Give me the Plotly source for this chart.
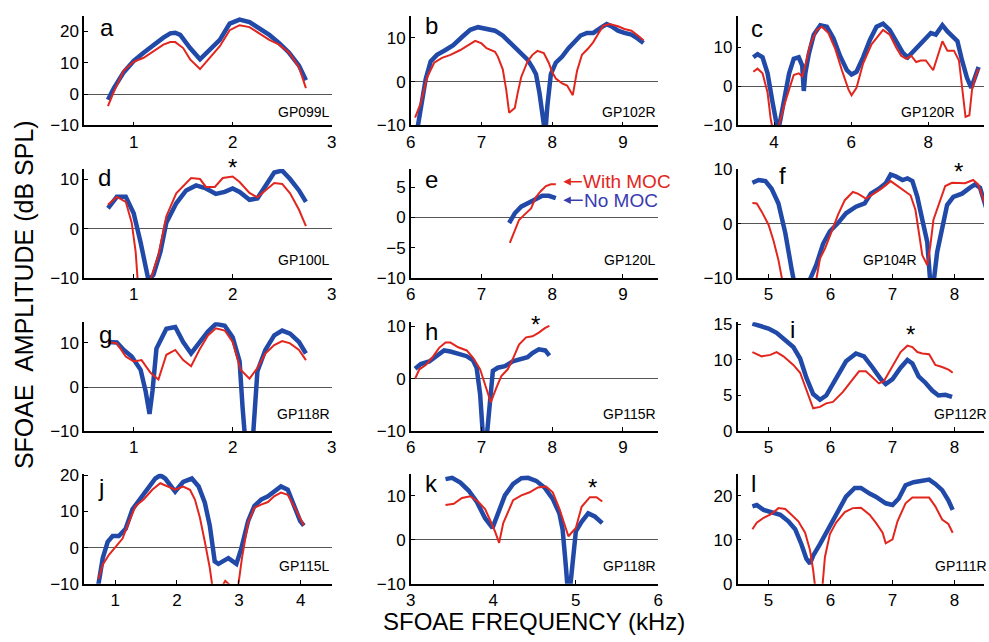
import plotly.graph_objects as go

W, H = 989, 642
BLUE = "#2149A8"
RED = "#E2261E"
VIOLET = "#3B3BB0"
FONT = "Liberation Sans, Arial, Helvetica, sans-serif"

# ---------------- data (kHz, dB SPL) ----------------
a_bx = [0.74,0.8,0.9,1.0,1.1,1.2,1.3,1.37,1.42,1.47,1.57,1.67,1.77,1.87,1.97,2.07,2.17,2.27,2.37,2.47,2.57,2.67,2.74]
a_by = [-1.8,1.9,7,10.6,13.2,15.8,18,19.4,19.6,18.9,14.7,11.1,14.2,17.3,22.5,23.8,23,20.9,18.9,16.3,13.2,9.1,4.4]
a_rx = [0.74,0.8,0.9,1.0,1.1,1.2,1.3,1.37,1.42,1.5,1.57,1.67,1.77,1.87,1.97,2.07,2.17,2.27,2.37,2.47,2.57,2.67,2.74]
a_ry = [-3.8,0.8,7.5,10.3,11.6,13.7,15.8,16.6,16.6,14.7,11.1,8,11.6,15.3,20.4,22,21.4,19.4,17.3,15.8,13.2,8.6,1.9]

b_bx = [6.08,6.21,6.28,6.37,6.49,6.6,6.72,6.84,6.95,7.07,7.19,7.3,7.42,7.53,7.65,7.72,7.77,7.82,7.86,7.9,7.93,7.98,8.05,8.14,8.23,8.33,8.4,8.49,8.58,8.7,8.77,8.84,8.93,9.02,9.12,9.21,9.29]
b_by = [-12,0.6,4.6,6.1,7.2,8.3,10.1,11.8,12.4,12.1,11.6,10.5,8.7,6.8,5,3.2,1.7,-2.7,-7.9,-12,-5.7,1.7,4.3,5.7,7.6,9.4,10.5,11.1,11.1,12.4,13.1,12.6,11.6,11.1,10.7,9.8,8.8]
b_rx = [6.06,6.14,6.23,6.33,6.44,6.56,6.7,6.84,6.91,7.0,7.07,7.19,7.23,7.3,7.35,7.39,7.47,7.51,7.56,7.65,7.72,7.79,7.88,7.95,8.0,8.05,8.14,8.21,8.29,8.35,8.42,8.51,8.58,8.65,8.72,8.81,8.93,9.02,9.12,9.21,9.29]
b_ry = [-8.2,-4.9,1,4.3,5.4,6.1,7.2,8.7,9.3,8.7,7.6,6.8,5.7,2.8,-2,-7.1,-6,-2.7,1,4.6,6.1,7,6.5,4.3,2.1,0.7,-0.4,-0.9,-3.1,2.4,6.1,7.6,9,10.9,12.7,13.1,12.6,12,11.6,10.5,9.4]

c_bx = [3.46,3.57,3.7,3.83,3.96,4.04,4.1,4.17,4.26,4.39,4.51,4.64,4.73,4.77,4.81,4.9,5.03,5.2,5.37,5.54,5.71,5.89,6.01,6.14,6.31,6.49,6.66,6.83,7.0,7.17,7.34,7.47,7.64,7.81,7.98,8.07,8.2,8.37,8.5,8.63,8.76,8.88,9.01,9.12,9.21,9.31]
c_by = [7.4,8.2,7.4,3.3,-4.1,-9.9,-11.5,-8.2,-3.3,3.3,7,7.4,5.3,-1.2,3.3,8.2,13.2,15.6,15.2,12.3,7.8,4.1,3,3.7,7.4,11.9,15.2,16,14.4,11.5,8.6,7.4,9.1,10.7,12.8,13.6,13.2,15.6,14,12.8,11.5,6.6,2.1,-0.4,2.5,4.9]
c_rx = [3.46,3.57,3.7,3.83,3.91,3.96,4.0,4.13,4.26,4.39,4.51,4.64,4.73,4.81,4.94,5.11,5.24,5.41,5.59,5.76,5.93,6.01,6.14,6.31,6.53,6.7,6.83,7.0,7.17,7.3,7.43,7.56,7.69,7.81,7.94,8.13,8.24,8.37,8.5,8.67,8.8,8.88,8.97,9.07,9.14,9.23,9.31]
c_ry = [3.7,4.5,3.3,-1.6,-8.2,-11.5,-13,-9.9,-4.9,-0.8,2.9,3.3,2.5,5.3,10.7,14.4,15.2,13.6,9.5,4.1,-0.8,-2.3,-0.4,5.8,10.7,12.8,14.4,13.2,9.9,7.8,7,7.8,6.2,6.6,6.6,4.1,7.4,11.5,9.1,9.1,6.6,0,-7.8,-7.4,-0.8,2.5,4.5]

d_bx = [0.74,0.83,0.92,1.0,1.07,1.12,1.15,1.2,1.27,1.33,1.43,1.53,1.63,1.73,1.83,1.92,2.0,2.07,2.17,2.25,2.33,2.42,2.5,2.58,2.67,2.74]
d_by = [4.1,6.4,6.4,3.1,-2.8,-7.3,-10.5,-9.3,-4.7,1.2,5.1,7.7,8.7,8.1,7,7.4,8.1,7.4,5.8,6.1,8.7,11.3,11.7,10,7.7,5.4]
d_rx = [0.74,0.83,0.92,0.98,1.02,1.04,1.1,1.17,1.25,1.33,1.43,1.52,1.58,1.67,1.73,1.82,1.9,2.0,2.07,2.17,2.25,2.33,2.42,2.5,2.58,2.67,2.74]
d_ry = [4.8,6.4,5.4,1.2,-4.7,-10.3,-13,-10.3,-5.4,2.5,7.1,9,10.2,10,8.4,8.4,10.2,10.5,9.4,7.2,6.3,7.7,9.2,9,7.1,3.8,0.5]

e_bx = [7.39,7.47,7.56,7.67,7.77,7.86,7.95,8.05]
e_by = [-0.9,0.7,1.8,2.4,3.1,3.6,3.6,3.2]
e_rx = [7.4,7.47,7.53,7.6,7.7,7.77,7.84,7.91,7.98,8.05]
e_ry = [-4.2,-2.2,-0.4,0.4,1.5,3.4,4.4,5.2,5.5,5.5]

f_bx = [4.74,4.84,4.95,5.05,5.16,5.27,5.37,5.41,5.45,5.6,5.67,5.77,5.88,5.99,6.12,6.25,6.41,6.55,6.65,6.78,6.89,6.97,7.05,7.16,7.24,7.32,7.4,7.48,7.56,7.61,7.66,7.72,7.8,7.88,7.98,8.12,8.25,8.33,8.41,8.47,8.52]
f_by = [7.5,8,7.8,6.4,3.7,-1.7,-8.2,-10.3,-13,-13,-10.2,-7.6,-3.7,-1.4,0.1,1.9,3.1,3.7,5.5,6.4,7.4,9,8.7,8,8.3,7.8,4.9,0.7,-3.4,-11,-11,-5.2,-0.5,3.4,4.9,5.5,6.6,7.2,6.6,4.5,2.5]
f_rx = [4.74,4.81,4.89,5.0,5.08,5.16,5.22,5.27,5.7,5.77,5.83,5.91,6.01,6.12,6.23,6.36,6.44,6.57,6.7,6.84,6.97,7.08,7.16,7.29,7.37,7.42,7.48,7.56,7.61,7.66,7.77,7.85,7.96,8.06,8.17,8.3,8.38,8.47,8.52]
f_ry = [3.8,3.7,2.2,-0.2,-3.1,-6.7,-10.3,-13,-13,-10.3,-6.4,-4.6,-1.7,1.6,4.3,5.8,5.5,4.6,5.5,6.6,7.8,6.9,6.1,5.2,2.5,-1.1,-5.8,-7.6,-4,0.7,4.3,6.9,7.5,7.5,7.4,8,7.2,4.3,2.5]

g_bx = [0.74,0.83,0.9,0.98,1.07,1.12,1.16,1.19,1.23,1.33,1.42,1.5,1.58,1.67,1.75,1.83,1.92,2.0,2.07,2.1,2.13,2.2,2.23,2.25,2.33,2.42,2.5,2.58,2.67,2.74]
g_by = [10.2,10.1,8.4,6.9,3.9,-0.9,-6.1,-0.9,8.7,13.2,13.6,10.2,7.6,10.2,12.6,14.3,13.9,11.3,5.8,-4.6,-13,-13,-2.4,3.6,8.4,11.7,12.8,12.1,10.2,7.6]
g_rx = [0.74,0.83,0.92,1.0,1.08,1.17,1.25,1.33,1.42,1.5,1.58,1.67,1.75,1.83,1.92,2.0,2.08,2.17,2.25,2.33,2.42,2.5,2.58,2.67,2.74]
g_ry = [10.2,9.9,6.9,5.8,6.1,3.2,1.7,7.3,8.4,6.1,4.7,8.7,11.7,13.3,12.8,10.2,3.9,1.9,4.3,7.6,9.5,10.4,9.9,8.4,6.1]

h_bx = [6.06,6.14,6.26,6.35,6.47,6.56,6.67,6.79,6.88,6.93,6.98,7.01,7.03,7.06,7.08,7.11,7.16,7.23,7.33,7.44,7.56,7.65,7.72,7.81,7.9,7.96]
h_by = [1.9,2.8,3.3,4.1,5.4,5.2,4.7,4.3,3.5,2.1,-3,-10.3,-13,-13,-10.3,-4.2,1.5,2.1,2.4,3.3,3.7,4.1,4.9,5.6,5.4,4.4]
h_rx = [6.06,6.12,6.21,6.3,6.4,6.49,6.56,6.67,6.79,6.88,6.98,7.05,7.13,7.21,7.28,7.37,7.44,7.53,7.63,7.72,7.81,7.9,7.96]
h_ry = [0,1.8,2.6,4,5.9,6.9,6.9,6,5.4,4,1.8,-1.1,-4.5,-1.7,0.5,1.8,3.7,6.5,7.9,8.1,8.8,9.7,10.1]

i_bx = [4.74,4.87,5.0,5.13,5.27,5.4,5.51,5.61,5.72,5.83,5.93,6.09,6.25,6.41,6.54,6.68,6.81,6.89,7.0,7.13,7.24,7.32,7.42,7.53,7.64,7.74,7.85,7.96]
i_by = [15.1,14.8,14.4,13.8,12.7,11.8,10.2,7.5,5.2,4.4,5,7.5,9.8,10.9,10.5,8.9,7.3,6.6,7.3,8.9,10,9.5,7.7,6.8,5.7,5,5.1,4.8]
i_rx = [4.74,4.89,5.03,5.13,5.24,5.4,5.51,5.61,5.72,5.83,5.93,6.04,6.2,6.36,6.46,6.57,6.68,6.78,6.86,7.0,7.13,7.24,7.32,7.4,7.48,7.59,7.69,7.8,7.91,7.97]
i_ry = [11.1,10.5,10.7,11.1,10.5,9.3,8.2,5.7,3.2,3.4,3.9,4.1,5.5,7.3,8.4,8.4,7.5,6.7,7,9.1,11.1,12,11.8,11.1,10.9,10.8,9.3,9,8.6,8.2]

j_bx = [0.73,0.8,0.88,0.96,1.06,1.17,1.28,1.41,1.54,1.65,1.73,1.81,1.97,2.1,2.24,2.35,2.45,2.53,2.61,2.67,2.83,2.96,3.04,3.15,3.25,3.36,3.47,3.57,3.68,3.79,3.89,3.99,4.05]
j_by = [-10.2,-2.9,1.6,3.2,3.2,5.2,10.6,13.7,16.9,19.1,20,19.1,15.5,18.2,19.1,16.9,12.4,6.1,-3.8,-4.5,-2.9,-4.5,-0.2,7.4,11.5,13.3,14.2,15.5,16.9,16,11.9,7.4,6.1]
j_rx = [0.73,0.8,0.9,1.01,1.12,1.22,1.33,1.46,1.6,1.73,1.86,1.97,2.1,2.21,2.29,2.37,2.45,2.53,2.57,2.65,2.72,2.78,2.85,2.92,2.99,3.05,3.15,3.25,3.36,3.47,3.57,3.68,3.79,3.89,4.05]
j_ry = [-8.7,-4.7,-2,0.3,2.5,7,11.5,13.3,16,17.8,16.9,16,16.9,16,13.3,8.3,1.6,-5.6,-10.5,-13,-11,-9.2,-10.3,-12,-10.5,-2.9,7,11,11.9,12.6,14.2,15.2,14.6,11.5,6.1]

k_bx = [3.42,3.5,3.6,3.7,3.8,3.9,3.99,4.06,4.14,4.24,4.34,4.42,4.52,4.62,4.72,4.8,4.84,4.88,4.9,4.93,4.97,5.0,5.07,5.15,5.23,5.32]
k_by = [13.8,14.1,13,11.2,8.6,4.9,2.7,6.4,10.1,12.7,14,14.1,13.4,11.9,9.3,6,2.3,-6.2,-11,-11,-2.5,1.9,4.1,6,5.3,3.8]
k_rx = [3.42,3.52,3.62,3.72,3.82,3.9,3.96,4.02,4.07,4.12,4.24,4.34,4.44,4.54,4.64,4.72,4.8,4.87,4.91,5.0,5.07,5.17,5.25,5.32]
k_ry = [7.9,8.2,9.5,9.9,8.6,7,4.5,1.9,-0.7,3.8,9,10.1,10.8,11.9,12.1,10.8,7.1,3.4,0.8,2.7,7.5,9.7,9.7,8.7]

l_bx = [4.74,4.81,4.92,5.05,5.19,5.32,5.43,5.53,5.61,5.67,5.72,5.83,5.93,6.09,6.25,6.39,6.49,6.63,6.73,6.89,7.0,7.1,7.21,7.34,7.48,7.59,7.69,7.8,7.9,7.97]
l_by = [17.6,17.9,16.8,16.3,15.7,14.2,12.4,9,5.7,4.6,6.4,9,11.6,15.7,19.8,21.8,21.8,20.5,19.8,18.3,17.9,19.4,22.4,23.1,23.5,23.7,22.7,21.3,19,16.8]
l_rx = [4.74,4.81,4.92,5.05,5.16,5.27,5.37,5.48,5.59,5.67,5.72,5.75,5.8,5.87,5.91,5.99,6.09,6.23,6.36,6.49,6.63,6.73,6.84,6.89,7.0,7.08,7.21,7.32,7.45,7.59,7.69,7.8,7.9,7.97]
l_ry = [12.4,13.9,15,15.9,17.2,17,15.7,14.2,11.6,7.6,3.1,-0.5,-3,-0.5,6.1,11.3,13.9,16.3,17.2,17.3,15.7,13.9,11.6,9.2,10.1,14.2,18.3,19.6,19.6,19.6,17.6,14.6,13.6,11.6]

letters = ["a","b","c","d","e","f","g","h","i","j","k","l"]
tags = ["GP099L","GP102R","GP120R","GP100L","GP120L","GP104R","GP118R","GP115R","GP112R","GP115L","GP118R","GP111R"]

# tick labels
xt_low = [1, 2, 3]
xt_mid = [6, 7, 8, 9]
xt_c = [4, 6, 8]
xt_right = [5, 6, 7, 8]
xt_j = [1, 2, 3, 4]
xt_k = [3, 4, 5, 6]
yt_a = [-10, 0, 10, 20]
yt_std = [-10, 0, 10]
yt_e = [-10, -5, 0, 5]
yt_i = [0, 5, 10, 15]
yt_l = [0, 10, 20]

# axis ranges
xr_low = [0.5, 3]; xr_mid = [6, 9.5]; xr_c = [3.05, 9.45]; xr_right = [4.5, 8.475]
xr_j = [0.5, 4.5]; xr_k = [3, 6]
yranges = [[-10, 25], [-10, 15], [-10, 18], [-10, 12], [-10, 8], [-10, 10],
           [-10, 14.7], [-10, 10.8], [0, 15.3], [-10, 20.4], [-10, 15], [0, 25]]
xranges = [xr_low, xr_mid, xr_c, xr_low, xr_mid, xr_right, xr_low, xr_mid, xr_right, xr_j, xr_k, xr_right]
xticks = [xt_low, xt_mid, xt_c, xt_low, xt_mid, xt_right, xt_low, xt_mid, xt_right, xt_j, xt_k, xt_right]
yticks = [yt_a, yt_std, yt_std, yt_std, yt_e, yt_std, yt_std, yt_std, yt_i, yt_a, yt_std, yt_l]

series = [(a_bx, a_by, a_rx, a_ry), (b_bx, b_by, b_rx, b_ry), (c_bx, c_by, c_rx, c_ry),
          (d_bx, d_by, d_rx, d_ry), (e_bx, e_by, e_rx, e_ry), (f_bx, f_by, f_rx, f_ry),
          (g_bx, g_by, g_rx, g_ry), (h_bx, h_by, h_rx, h_ry), (i_bx, i_by, i_rx, i_ry),
          (j_bx, j_by, j_rx, j_ry), (k_bx, k_by, k_rx, k_ry), (l_bx, l_by, l_rx, l_ry)]

# ---------------- layout geometry (pixels) ----------------
col_px = [(80, 330), (410, 660), (740, 989)]
row_px = [(7, 120), (165, 277.3), (322.7, 435), (479, 592.3)]

def fx(p):
    return p / W

def fy(p):
    return 1 - p / H

fig = go.Figure()
layout = dict(width=W, height=H, margin=dict(l=0, r=0, t=0, b=0),
              plot_bgcolor="white", paper_bgcolor="white", showlegend=False,
              font=dict(family=FONT, color="black"))
annotations = []

letter_pos = [(103, 19), (431, 17), (760, 20), (101, 174), (431, 176), (785, 172),
              (102, 335), (431, 332), (796, 330), (97, 493), (431, 489), (756, 489)]
tag_pos = [(330, 106, "right"), (660, 106, "right"), (962, 106, "right"),
           (330, 259, "right"), (660, 259, "right"), (923, 259, "right"),
           (330, 417.5, "right"), (660, 417.5, "right"), (936, 417.5, "left"),
           (330, 574, "right"), (660, 574, "right"), (937, 574, "left")]

for i in range(12):
    r, c = divmod(i, 3)
    n = i + 1
    sfx = "" if n == 1 else str(n)
    x0, x1 = col_px[c]
    y0, y1 = row_px[r]
    bx, by, rx, ry = series[i]
    fig.add_trace(go.Scatter(x=bx, y=by, mode="lines", line=dict(color=BLUE, width=4.5),
                             xaxis="x" + sfx, yaxis="y" + sfx, hoverinfo="skip"))
    fig.add_trace(go.Scatter(x=rx, y=ry, mode="lines", line=dict(color=RED, width=2),
                             xaxis="x" + sfx, yaxis="y" + sfx, hoverinfo="skip"))
    common = dict(showline=True, linecolor="black", linewidth=1.5, ticks="inside", ticklen=4,
                  tickwidth=1.2, tickcolor="black", showgrid=False,
                  tickfont=dict(family=FONT, size=17, color="black"))
    layout["xaxis" + sfx] = dict(domain=[fx(x0), fx(x1)], range=xranges[i], anchor="y" + sfx,
                                 tickvals=xticks[i], zeroline=False, **common)
    yr = yranges[i]
    layout["yaxis" + sfx] = dict(domain=[fy(y1), fy(y0)], range=yr, anchor="x" + sfx,
                                 tickvals=yticks[i], zeroline=yr[0] < 0, zerolinecolor="#555",
                                 zerolinewidth=1.2, **common)
    lx, ly = letter_pos[i]
    annotations.append(dict(text=letters[i], x=fx(lx), y=fy(ly), xref="paper", yref="paper",
                            showarrow=False, xanchor="center", yanchor="middle",
                            font=dict(family=FONT, size=24, color="black")))
    tx, ty, ta = tag_pos[i]
    annotations.append(dict(text=tags[i], x=fx(tx), y=fy(ty), xref="paper", yref="paper",
                            showarrow=False, xanchor=ta, yanchor="middle",
                            font=dict(family=FONT, size=14, color="black")))

# significance asterisks
for (sx, sy) in [(230, 163), (963, 167), (536, 325), (915, 335), (593, 493)]:
    annotations.append(dict(text="*", x=fx(sx), y=fy(sy), xref="paper", yref="paper",
                            showarrow=False, xanchor="center", yanchor="middle",
                            font=dict(family=FONT, size=24, color="black")))

# legend in panel e: text with arrows pointing at the curve ends
annotations.append(dict(text="With MOC", x=fx(564), y=fy(178), xref="paper", yref="paper",
                        showarrow=True, ax=64, ay=0, arrowhead=2, arrowsize=1,
                        arrowwidth=1.5, arrowcolor=RED, standoff=0, startstandoff=0,
                        font=dict(family=FONT, size=19, color=RED)))
annotations.append(dict(text="No MOC", x=fx(564), y=fy(197), xref="paper", yref="paper",
                        showarrow=True, ax=58, ay=0, arrowhead=2, arrowsize=1,
                        arrowwidth=1.5, arrowcolor=VIOLET, standoff=0, startstandoff=0,
                        font=dict(family=FONT, size=19, color=VIOLET)))

# axis titles
annotations.append(dict(text="SFOAE\u00a0 AMPLITUDE (dB SPL)", x=fx(20), y=fy(294), xref="paper",
                        yref="paper", showarrow=False, textangle=-90, xanchor="center",
                        yanchor="middle", font=dict(family=FONT, size=25, color="black")))
annotations.append(dict(text="SFOAE FREQUENCY (kHz)", x=fx(534), y=fy(631), xref="paper",
                        yref="paper", showarrow=False, xanchor="center", yanchor="middle",
                        font=dict(family=FONT, size=24, color="black")))

layout["annotations"] = annotations
fig.update_layout(**layout)
fig.write_html("out.html")
